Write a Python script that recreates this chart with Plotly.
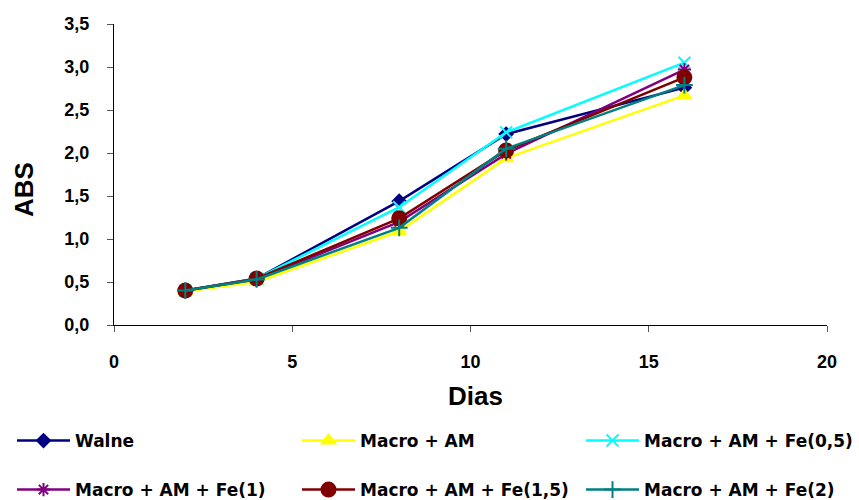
import plotly.graph_objects as go

days = [2, 4, 8, 11, 16]
walne = [0.40, 0.54, 1.44, 2.22, 2.76]
macro_am = [0.39, 0.50, 1.09, 1.94, 2.67]
fe05 = [0.40, 0.54, 1.37, 2.24, 3.05]
fe1 = [0.40, 0.53, 1.20, 1.99, 2.97]
fe15 = [0.40, 0.54, 1.24, 2.03, 2.88]
fe2 = [0.40, 0.53, 1.13, 2.05, 2.79]

names = ["Walne", "Macro + AM", "Macro + AM + Fe(0,5)",
         "Macro + AM + Fe(1)", "Macro + AM + Fe(1,5)", "Macro + AM + Fe(2)"]
series = [walne, macro_am, fe05, fe1, fe15, fe2]
colors = ["#000080", "#FFFF00", "#00FFFF", "#800080", "#800000", "#008080"]
symbols = ["diamond", "triangle-up", "x-thin-open", "asterisk-open", "circle", "cross-thin-open"]
sizes = [10, 12, 12, 11, 14, 12]

W, H = 859, 500
L, R, T, B = 114, 32, 24, 175
pw, ph = W - L - R, H - T - B

leg_ids = ["legend", "legend2", "legend3", "legend4", "legend5", "legend6"]
leg_x = [12, 297, 581, 12, 297, 581]
leg_y = [441, 441, 441, 490, 490, 490]

fig = go.Figure()
for n, s, c, sym, sz, lg in zip(names, series, colors, symbols, sizes, leg_ids):
    fig.add_trace(go.Scatter(
        x=days, y=s, name=n, mode="lines+markers",
        line=dict(color=c, width=2.5),
        marker=dict(symbol=sym, size=sz, color=c, line=dict(color=c, width=2)),
        legend=lg,
    ))

axis_font = dict(family="Liberation Sans, Arial", size=18, color="black", weight="bold")
title_font = dict(family="Liberation Sans, Arial", size=26, color="black", weight="bold")
leg_common = dict(
    orientation="h", xref="container", yref="container",
    xanchor="left", yanchor="middle",
    font=dict(family="DejaVu Sans", size=17, color="black", weight="bold"),
    itemwidth=53,
    bgcolor="rgba(0,0,0,0)", borderwidth=0,
)
legend_layout = {lid: dict(x=lx / W, y=1 - ly / H, **leg_common)
                 for lid, lx, ly in zip(leg_ids, leg_x, leg_y)}

fig.update_layout(
    width=W, height=H,
    margin=dict(l=L, r=R, t=T, b=B),
    plot_bgcolor="white", paper_bgcolor="white",
    xaxis=dict(
        range=[0, 20], tickvals=[0, 5, 10, 15, 20], ticktext=["0", "5", "10", "15", "20"],
        showgrid=False, zeroline=False, showline=True, linecolor="black", linewidth=1,
        ticks="outside", ticklen=6, tickcolor="#555", tickfont=axis_font,
        ticklabelstandoff=14,
    ),
    yaxis=dict(
        range=[0, 3.5], tickvals=[0, 0.5, 1, 1.5, 2, 2.5, 3, 3.5],
        ticktext=["0,0", "0,5", "1,0", "1,5", "2,0", "2,5", "3,0", "3,5"],
        showgrid=False, zeroline=False, showline=True, linecolor="black", linewidth=1,
        ticks="outside", ticklen=6, tickcolor="#555", tickfont=axis_font,
        ticklabelstandoff=14,
    ),
    annotations=[
        dict(text="Dias", xref="paper", yref="paper",
             x=(475 - L) / pw, y=(T + ph - 396) / ph,
             xanchor="center", yanchor="middle", showarrow=False, font=title_font),
        dict(text="ABS", xref="paper", yref="paper", textangle=-90,
             x=(24 - L) / pw, y=(T + ph - 190) / ph,
             xanchor="center", yanchor="middle", showarrow=False, font=title_font),
    ],
    showlegend=True,
    **legend_layout,
)
fig.write_html("out.html")
